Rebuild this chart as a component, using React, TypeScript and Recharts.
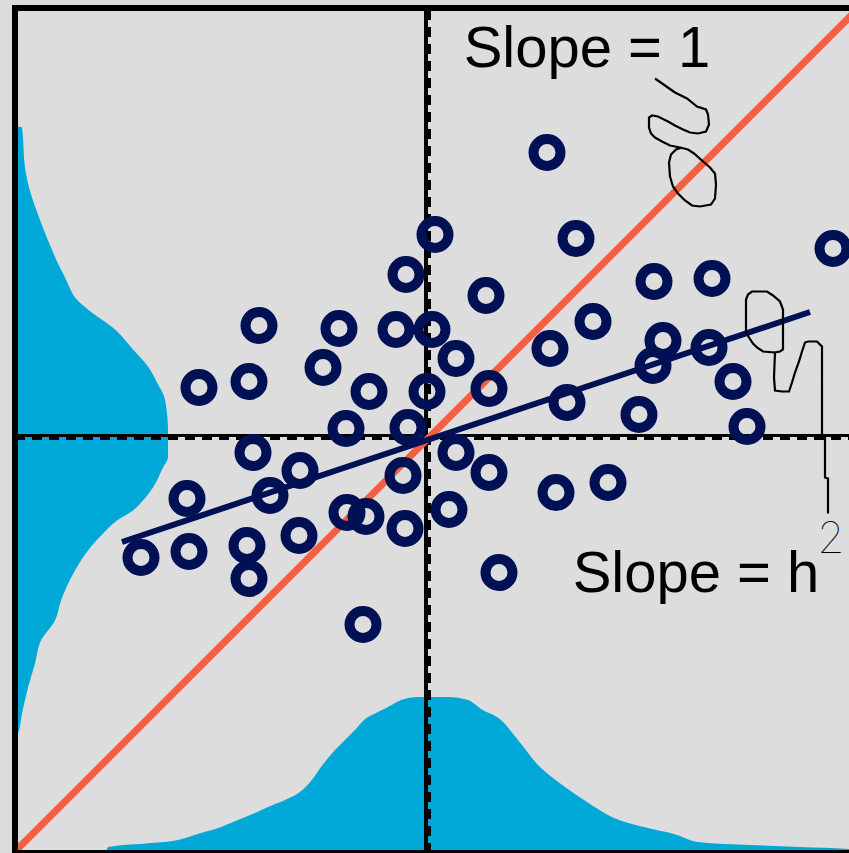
import { ComposedChart, Area, Line, Scatter, XAxis, YAxis, ReferenceLine, ReferenceDot } from 'recharts';

const W = 870;
const H = 853;
const MARGIN = { top: 8, right: 12, bottom: 0, left: 15 };
const X_DOMAIN = [-4.11, 4.32];
const Y_DOMAIN = [-4.175, 4.275];

const BG = '#dddddd';
const NAVY = '#001055';
const ORANGE = '#f2603f';
const BLUE = '#00a8d8';
const FONT = '"Liberation Sans", Arial, Helvetica, sans-serif';

// midparent (x) vs offspring (y), in sd units
const pointX = [
  1.21, 0.09, 1.5, 4.07, -0.2, 0.6, 2.28, 2.86, -1.67, -0.87,
  -0.3, 0.06, 1.67, 2.37, 0.3, 1.24, -1.03, -2.27, -1.77, -0.57,
  0.01, 0.63, 2.27, 2.83, 3.07, 1.41, 2.13, 3.21, -0.8, -0.18,
  -1.73, 0.3, 0.63, -1.26, -0.23, -2.39, -1.56, 1.3, 1.82, -0.79,
  -0.6, 0.23, -1.27, -0.21, -2.85, -2.37, -1.79, -1.77, 0.73, -0.63,
];
const pointY = [
  2.83, 2.01, 1.97, 1.87, 1.61, 1.4, 1.54, 1.57, 1.1, 1.07,
  1.06, 1.06, 1.14, 0.95, 0.77, 0.87, 0.68, 0.48, 0.54, 0.44,
  0.44, 0.47, 0.7, 0.88, 0.54, 0.33, 0.21, 0.09, 0.07, 0.08,
  -0.17, -0.17, -0.37, -0.35, -0.4, -0.63, -0.6, -0.57, -0.47, -0.77,
  -0.81, -0.74, -1.0, -0.93, -1.22, -1.16, -1.1, -1.43, -1.37, -1.89,
];

// regression line (slope = h^2)
const fitX = [-3.04, 3.84];
const fitY = [-1.065, 1.235];

// slope = 1 line
const slope1X = [-4.11, 4.32];
const slope1Y = [-4.16, 4.27];

// marginal distribution of offspring (left)
const leftY = [
  3.09, 3.08, 2.68, 2.41, 2.21, 2.05, 1.88, 1.72, 1.58, 1.45, 1.38, 1.26,
  1.06, 0.86, 0.69, 0.53, 0.36, 0.03, -0.22, -0.32, -0.52, -0.65, -0.75,
  -0.85, -0.98, -1.15, -1.35, -1.65, -1.85, -2.05, -2.28, -2.52, -2.78, -2.98, -2.99,
];
const leftDensity = [
  0, 0.07, 0.1, 0.16, 0.23, 0.29, 0.36, 0.43, 0.5, 0.56, 0.6, 0.73,
  1.0, 1.18, 1.33, 1.42, 1.5, 1.53, 1.53, 1.48, 1.38, 1.28, 1.18,
  1.02, 0.88, 0.73, 0.6, 0.46, 0.4, 0.26, 0.2, 0.13, 0.07, 0.03, 0,
];

// marginal distribution of midparents (bottom)
const bottomX = [
  -3.2, -3.18, -2.75, -2.48, -2.25, -2.05, -1.88, -1.71, -1.58, -1.41, -1.26,
  -1.15, -1.05, -0.91, -0.81, -0.71, -0.62, -0.52, -0.38, -0.25, -0.08, 0.22,
  0.42, 0.55, 0.75, 0.92, 1.12, 1.35, 1.58, 1.88, 2.22, 2.48, 2.72, 3.24, 3.74, 4.23, 4.54,
];
const bottomDensity = [
  0, 0.06, 0.1, 0.13, 0.2, 0.26, 0.33, 0.4, 0.46, 0.53, 0.61,
  0.72, 0.86, 1.03, 1.13, 1.23, 1.33, 1.39, 1.46, 1.53, 1.56, 1.56,
  1.53, 1.44, 1.33, 1.13, 0.88, 0.69, 0.53, 0.35, 0.25, 0.19, 0.11, 0.08, 0.06, 0.04, 0,
];

// hand drawn pointer from "Slope = 1"
const note1X = [
  2.29, 2.39, 2.49, 2.61, 2.71, 2.8, 2.82, 2.83, 2.8, 2.72, 2.64, 2.57, 2.49, 2.42,
  2.32, 2.26, 2.23, 2.23, 2.25, 2.29, 2.36, 2.44, 2.54, 2.62, 2.68, 2.76, 2.84, 2.89,
  2.9, 2.89, 2.85, 2.74, 2.66, 2.59, 2.52, 2.47, 2.44, 2.43, 2.45, 2.5, 2.56,
];
const note1Y = [
  3.57, 3.5, 3.43, 3.37, 3.29, 3.26, 3.21, 3.11, 3.04, 3.02, 3.03, 3.06, 3.1, 3.14,
  3.19, 3.2, 3.18, 3.08, 3.02, 2.98, 2.94, 2.9, 2.88, 2.86, 2.82, 2.75, 2.68, 2.62,
  2.51, 2.37, 2.31, 2.29, 2.3, 2.35, 2.42, 2.49, 2.59, 2.73, 2.81, 2.86, 2.88,
];

// hand drawn pointer to "h2"
const note2X = [
  3.49, 3.37, 3.31, 3.27, 3.23, 3.2, 3.2, 3.22, 3.26, 3.41, 3.47, 3.54, 3.57, 3.57,
  3.57, 3.54, 3.49, 3.48, 3.49, 3.56, 3.63, 3.66, 3.69, 3.73, 3.76, 3.79, 3.82, 3.91,
  3.96, 3.96, 3.96, 3.99, 3.99, 4.02, 4.02,
];
const note2Y = [
  0.83, 0.84, 0.88, 0.92, 0.98, 1.03, 1.36, 1.41, 1.44, 1.44, 1.4, 1.34, 1.26, 1.06,
  0.86, 0.84, 0.83, 0.58, 0.45, 0.44, 0.44, 0.53, 0.63, 0.74, 0.84, 0.93, 0.94, 0.94,
  0.89, 0.73, 0.01, -0.02, -0.42, -0.43, -0.78,
];

const zip = (xs: number[], ys: number[]) => xs.map((x, i) => ({ x, y: ys[i] }));

const points = zip(pointX, pointY);
const fitLine = zip(fitX, fitY);
const note1 = zip(note1X, note1Y);
const note2 = zip(note2X, note2Y);
const leftData = leftY.map((y, i) => ({ y, d: leftDensity[i] }));
const bottomData = bottomX.map((x, i) => ({ x, h: bottomDensity[i] }));

const Ring = (props: any) => (
  <circle cx={props.cx} cy={props.cy} r={13.5} fill="none" stroke={NAVY} strokeWidth={10} />
);

const layer: React.CSSProperties = { position: 'absolute', left: 0, top: 0 };

export default function App() {
  return (
    <div
      style={{
        position: 'absolute',
        left: 0,
        top: 0,
        width: 849,
        height: 853,
        overflow: 'hidden',
        background: BG,
      }}
    >
      {/* bottom marginal */}
      <div style={layer}>
        <ComposedChart width={W} height={H} data={bottomData} margin={MARGIN}>
          <XAxis hide type="number" dataKey="x" domain={X_DOMAIN} allowDataOverflow />
          <YAxis hide type="number" domain={[0, 8.45]} allowDataOverflow />
          <Area
            type="monotone"
            dataKey="h"
            stroke="none"
            fill={BLUE}
            fillOpacity={1}
            isAnimationActive={false}
          />
        </ComposedChart>
      </div>

      {/* left marginal */}
      <div style={layer}>
        <ComposedChart width={W} height={H} data={leftData} margin={MARGIN} layout="vertical">
          <XAxis hide type="number" domain={[0, 8.43]} allowDataOverflow />
          <YAxis hide type="number" dataKey="y" domain={Y_DOMAIN} reversed allowDataOverflow />
          <Area
            type="monotone"
            dataKey="d"
            stroke="none"
            fill={BLUE}
            fillOpacity={1}
            isAnimationActive={false}
          />
        </ComposedChart>
      </div>

      {/* scatter */}
      <div style={layer}>
        <ComposedChart width={W} height={H} margin={MARGIN}>
          <XAxis hide type="number" dataKey="x" domain={X_DOMAIN} allowDataOverflow />
          <YAxis hide type="number" dataKey="y" domain={Y_DOMAIN} allowDataOverflow />

          <ReferenceLine x={0} stroke="#000" strokeWidth={4} ifOverflow="visible" />
          <ReferenceLine x={0.035} stroke="#000" strokeWidth={3} strokeDasharray="10 7" ifOverflow="visible" />
          <ReferenceLine y={0} stroke="#000" strokeWidth={3} ifOverflow="visible" />
          <ReferenceLine y={-0.03} stroke="#000" strokeWidth={3} strokeDasharray="10 7" ifOverflow="visible" />

          <ReferenceLine
            segment={[
              { x: slope1X[0], y: slope1Y[0] },
              { x: slope1X[1], y: slope1Y[1] },
            ]}
            stroke={ORANGE}
            strokeWidth={7}
            ifOverflow="visible"
          />

          <Scatter data={points} shape={Ring} isAnimationActive={false} />

          <Line
            data={fitLine}
            dataKey="y"
            type="linear"
            stroke={NAVY}
            strokeWidth={6}
            dot={false}
            activeDot={false}
            isAnimationActive={false}
          />
          <Line
            data={note1}
            dataKey="y"
            type="linear"
            stroke="#000"
            strokeWidth={2.2}
            dot={false}
            activeDot={false}
            isAnimationActive={false}
          />
          <Line
            data={note2}
            dataKey="y"
            type="linear"
            stroke="#000"
            strokeWidth={2.2}
            dot={false}
            activeDot={false}
            isAnimationActive={false}
          />

          <ReferenceLine x={X_DOMAIN[0]} stroke="#000" strokeWidth={6} strokeLinecap="square" ifOverflow="visible" />
          <ReferenceLine y={Y_DOMAIN[1]} stroke="#000" strokeWidth={6} strokeLinecap="square" ifOverflow="visible" />
          <ReferenceLine y={Y_DOMAIN[0]} stroke="#000" strokeWidth={6} ifOverflow="visible" />

          <ReferenceDot
            x={1.61}
            y={3.895}
            r={0}
            stroke="none"
            fill="none"
            ifOverflow="visible"
            label={{ value: 'Slope = 1', position: 'center', fontSize: 58, fill: '#000', fontFamily: FONT }}
          />
          <ReferenceDot
            x={2.7}
            y={-1.36}
            r={0}
            stroke="none"
            fill="none"
            ifOverflow="visible"
            label={{ value: 'Slope = h', position: 'center', fontSize: 58, fill: '#000', fontFamily: FONT }}
          />
          <ReferenceDot
            x={4.05}
            y={-1.02}
            r={0}
            stroke="none"
            fill="none"
            ifOverflow="visible"
            label={{ value: '2', position: 'center', fontSize: 44, fill: '#000', fontFamily: 'Inter, sans-serif', fontWeight: 100 }}
          />
        </ComposedChart>
      </div>
    </div>
  );
}
